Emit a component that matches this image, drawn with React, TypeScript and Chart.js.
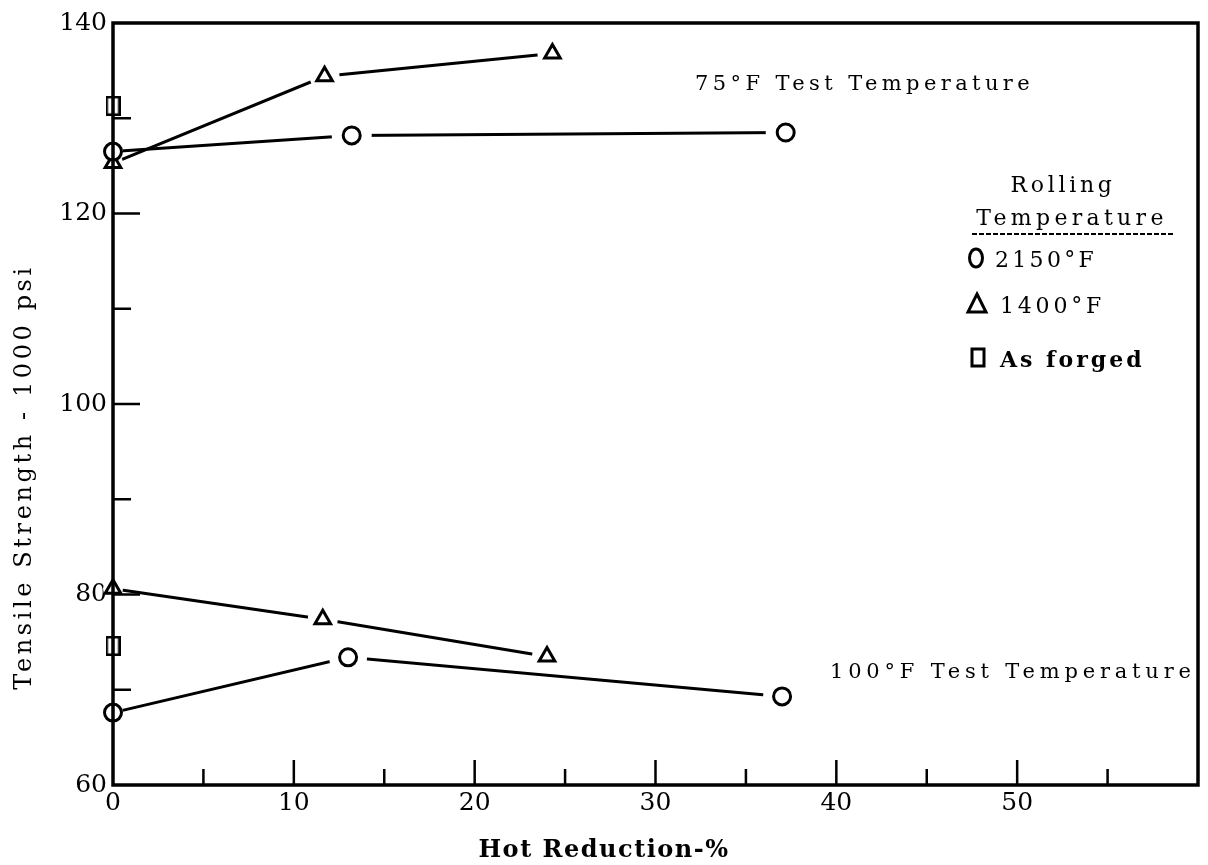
import { useEffect, useRef } from "react";
import { Chart, registerables } from "chart.js";

Chart.register(...registerables);

// Axis ranges and tick values
const X_MIN = 0;
const X_MAX = 60;
const Y_MIN = 60;
const Y_MAX = 140;
const X_STEP = 10;
const Y_STEP = 20;
const xMajorTicks = [10, 20, 30, 40, 50];
const xMinorTicks = [5, 15, 25, 35, 45, 55];
const yMajorTicks = [80, 100, 120];
const yMinorTicks = [70, 90, 110, 130];

// 75°F test temperature
const red75Rolled2150 = [0, 13.2, 37.2];
const ts75Rolled2150 = [126.5, 128.2, 128.5];
const red75Rolled1400 = [0, 11.7, 24.3];
const ts75Rolled1400 = [125.3, 134.4, 136.8];
const red75Forged = [0];
const ts75Forged = [131.3];

// 100°F test temperature
const red100Rolled2150 = [0, 13.0, 37.0];
const ts100Rolled2150 = [67.6, 73.4, 69.3];
const red100Rolled1400 = [0, 11.6, 24.0];
const ts100Rolled1400 = [80.6, 77.4, 73.5];
const red100Forged = [0];
const ts100Forged = [74.6];

const SERIF = "'DejaVu Serif', 'Liberation Serif', serif";

const toPoints = (xs: number[], ys: number[]) => xs.map((x, i) => ({ x, y: ys[i] }));

function makeBoxMarker(w: number, h: number, lw: number): HTMLCanvasElement {
  const c = document.createElement("canvas");
  c.width = w;
  c.height = h;
  const g = c.getContext("2d")!;
  g.fillStyle = "#fff";
  g.fillRect(0, 0, w, h);
  g.strokeStyle = "#000";
  g.lineWidth = lw;
  g.strokeRect(lw / 2, lw / 2, w - lw, h - lw);
  return c;
}

// connecting line, with white discs that open a small gap around each marker
function lineSet(xs: number[], ys: number[], gap: number) {
  return {
    type: "line" as const,
    data: toPoints(xs, ys),
    borderColor: "#000",
    borderWidth: 3,
    pointRadius: (ctx: any) => (ctx.raw && ctx.raw.x === 0 ? 10 : gap),
    pointHoverRadius: (ctx: any) => (ctx.raw && ctx.raw.x === 0 ? 10 : gap),
    pointBackgroundColor: "#fff",
    pointBorderWidth: 0,
    pointBorderColor: "#fff",
    tension: 0,
    clip: false as const,
    order: 1,
  };
}

function markerSet(xs: number[], ys: number[], style: any, radius: number) {
  return {
    type: "line" as const,
    data: toPoints(xs, ys),
    showLine: false,
    pointStyle: style,
    pointRadius: radius,
    pointHoverRadius: radius,
    pointBackgroundColor: "#fff",
    pointBorderColor: "#000",
    pointBorderWidth: 3,
    clip: false as const,
    order: 0,
  };
}

const framePlugin = {
  id: "frameAndTicks",
  afterDatasetsDraw(chart: any) {
    const { ctx, chartArea, scales } = chart;
    const { left, top, right, bottom } = chartArea;
    const xs = scales.x;
    const ys = scales.y;
    ctx.save();
    ctx.strokeStyle = "#000";
    ctx.lineWidth = 3.5;
    ctx.strokeRect(left, top, right - left, bottom - top);
    ctx.lineWidth = 2.5;
    ctx.beginPath();
    xMajorTicks.forEach((v) => {
      const p = xs.getPixelForValue(v);
      ctx.moveTo(p, bottom);
      ctx.lineTo(p, bottom - 25);
    });
    xMinorTicks.forEach((v) => {
      const p = xs.getPixelForValue(v);
      ctx.moveTo(p, bottom);
      ctx.lineTo(p, bottom - 16);
    });
    yMajorTicks.forEach((v) => {
      const p = ys.getPixelForValue(v);
      ctx.moveTo(left, p);
      ctx.lineTo(left + 27, p);
    });
    yMinorTicks.forEach((v) => {
      const p = ys.getPixelForValue(v);
      ctx.moveTo(left, p);
      ctx.lineTo(left + 18, p);
    });
    ctx.stroke();
    ctx.restore();
  },
};

const textPlugin = {
  id: "annotations",
  afterDraw(chart: any) {
    const { ctx } = chart;
    ctx.save();
    ctx.fillStyle = "#000";
    ctx.strokeStyle = "#000";

    const put = (t: string, x: number, y: number, font: string, spacing: number, align = "left") => {
      ctx.font = font;
      ctx.letterSpacing = `${spacing}px`;
      ctx.textAlign = align;
      ctx.textBaseline = "alphabetic";
      ctx.fillText(t, x, y);
    };

    // y axis title
    ctx.save();
    ctx.translate(25, 477);
    ctx.rotate(-Math.PI / 2);
    ctx.font = `24px ${SERIF}`;
    ctx.letterSpacing = "3.6px";
    ctx.textAlign = "center";
    ctx.textBaseline = "middle";
    ctx.fillText("Tensile Strength - 1000 psi", 0, 0);
    ctx.restore();

    // x axis title
    put("Hot Reduction-%", 604, 857, `bold 24px ${SERIF}`, 1.5, "center");

    // curve group labels
    put("75°F Test Temperature", 695, 90, `21px ${SERIF}`, 4.4);
    put("100°F Test Temperature", 830, 678, `21px ${SERIF}`, 4.8);

    // legend
    put("Rolling", 1063, 192, `22px ${SERIF}`, 3.7, "center");
    put("Temperature", 1072, 225, `22px ${SERIF}`, 4.3, "center");
    ctx.save();
    ctx.lineWidth = 2;
    ctx.setLineDash([5, 2]);
    ctx.beginPath();
    ctx.moveTo(972, 234);
    ctx.lineTo(1175, 234);
    ctx.stroke();
    ctx.restore();

    ctx.lineWidth = 3;
    ctx.beginPath();
    ctx.ellipse(976, 258, 6.5, 9, 0, 0, Math.PI * 2);
    ctx.stroke();
    put("2150°F", 995, 267, `22px ${SERIF}`, 3.3);

    ctx.beginPath();
    ctx.moveTo(977, 294);
    ctx.lineTo(986, 312);
    ctx.lineTo(968, 312);
    ctx.closePath();
    ctx.stroke();
    put("1400°F", 1000, 313, `22px ${SERIF}`, 3.8);

    ctx.strokeRect(972, 349, 12, 17);
    put("As forged", 1000, 367, `bold 22px ${SERIF}`, 3);

    ctx.restore();
  },
};

export default function App() {
  const canvasRef = useRef<HTMLCanvasElement | null>(null);

  useEffect(() => {
    if (!canvasRef.current) return;
    const box = makeBoxMarker(15, 20, 2.5);
    const chart = new Chart(canvasRef.current, {
      type: "line",
      data: {
        datasets: [
          markerSet(red75Rolled2150, ts75Rolled2150, "circle", 8.5),
          markerSet(red75Rolled1400, ts75Rolled1400, "triangle", 9),
          markerSet(red75Forged, ts75Forged, box, 8),
          markerSet(red100Rolled2150, ts100Rolled2150, "circle", 8.5),
          markerSet(red100Rolled1400, ts100Rolled1400, "triangle", 9),
          markerSet(red100Forged, ts100Forged, box, 8),
          lineSet(red75Rolled2150, ts75Rolled2150, 20),
          lineSet(red75Rolled1400, ts75Rolled1400, 15),
          lineSet(red100Rolled2150, ts100Rolled2150, 19),
          lineSet(red100Rolled1400, ts100Rolled1400, 15),
        ] as any,
      },
      options: {
        animation: false,
        responsive: true,
        maintainAspectRatio: false,
        events: [],
        layout: { autoPadding: false, padding: { top: 23, right: 10, left: 0, bottom: 0 } },
        plugins: {
          legend: { display: false },
          tooltip: { enabled: false },
          title: { display: false },
        },
        scales: {
          x: {
            type: "linear",
            min: X_MIN,
            max: X_MAX,
            grid: { display: false, drawTicks: false },
            border: { display: false },
            ticks: {
              stepSize: X_STEP,
              color: "#000",
              padding: 3,
              font: { family: SERIF, size: 25 },
              callback: (v: any) => (Number(v) >= X_MAX ? "" : String(v)),
            },
            afterFit: (s: any) => {
              s.height = 80;
            },
          },
          y: {
            type: "linear",
            min: Y_MIN,
            max: Y_MAX,
            grid: { display: false, drawTicks: false },
            border: { display: false },
            ticks: {
              stepSize: Y_STEP,
              color: "#000",
              padding: 6,
              font: { family: SERIF, size: 25 },
            },
            afterFit: (s: any) => {
              s.width = 113;
            },
          },
        },
      },
      plugins: [framePlugin, textPlugin],
    });
    return () => chart.destroy();
  }, []);

  return (
    <div style={{ position: "fixed", left: 0, top: 0, width: 1208, height: 865, background: "#fff" }}>
      <canvas ref={canvasRef} />
    </div>
  );
}
